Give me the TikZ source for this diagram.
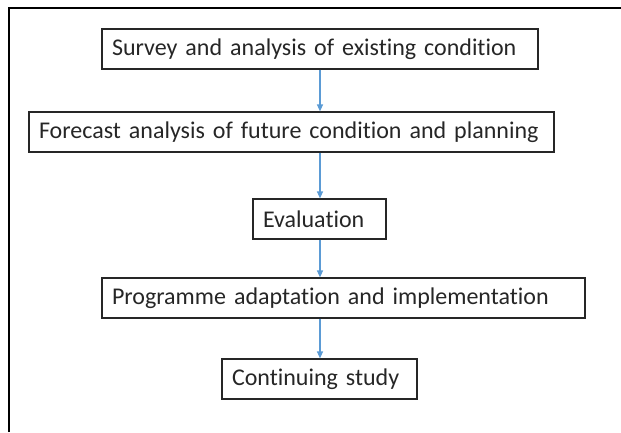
\documentclass[tikz,border=0pt]{standalone}
\usepackage{fontspec}
\setmainfont[Ligatures=NoCommon]{Carlito}
\usetikzlibrary{arrows.meta}
\definecolor{flowblue}{RGB}{91,155,213}

\begin{document}
\begin{tikzpicture}[x=1pt,y=-1pt,
    box/.style={draw=black!85,line width=1.2pt,rectangle,minimum height=40pt,inner xsep=10pt,inner ysep=0pt,align=left,text=black!85,font=\fontsize{24}{26}\selectfont},
    flow/.style={draw=flowblue,line width=1.2pt,-{Triangle[length=7pt,width=6pt]}}]
    \useasboundingbox (0,0) rectangle (621,432);

    % frame round the chart
    \draw[line width=2pt] (9,432) -- (9,8) -- (621,8);

    \node[box,text width=416pt] (survey) at (320,49) {Survey and analysis of existing condition};
    \node[box,text width=505pt] (forecast) at (291.5,132) {Forecast analysis of future condition and planning};
    \node[box,text width=113pt] (eval) at (319.5,219) {Evaluation};
    \node[box,text width=463pt] (prog) at (343.5,298) {Programme adaptation and implementation};
    \node[box,text width=175pt] (cont) at (319.5,379) {Continuing study};

    \draw[flow] (survey.south) -- (survey.south |- forecast.north);
    \draw[flow] (survey.south |- forecast.south) -- (survey.south |- eval.north);
    \draw[flow] (survey.south |- eval.south) -- (survey.south |- prog.north);
    \draw[flow] (survey.south |- prog.south) -- (survey.south |- cont.north);

\end{tikzpicture}
\end{document}
